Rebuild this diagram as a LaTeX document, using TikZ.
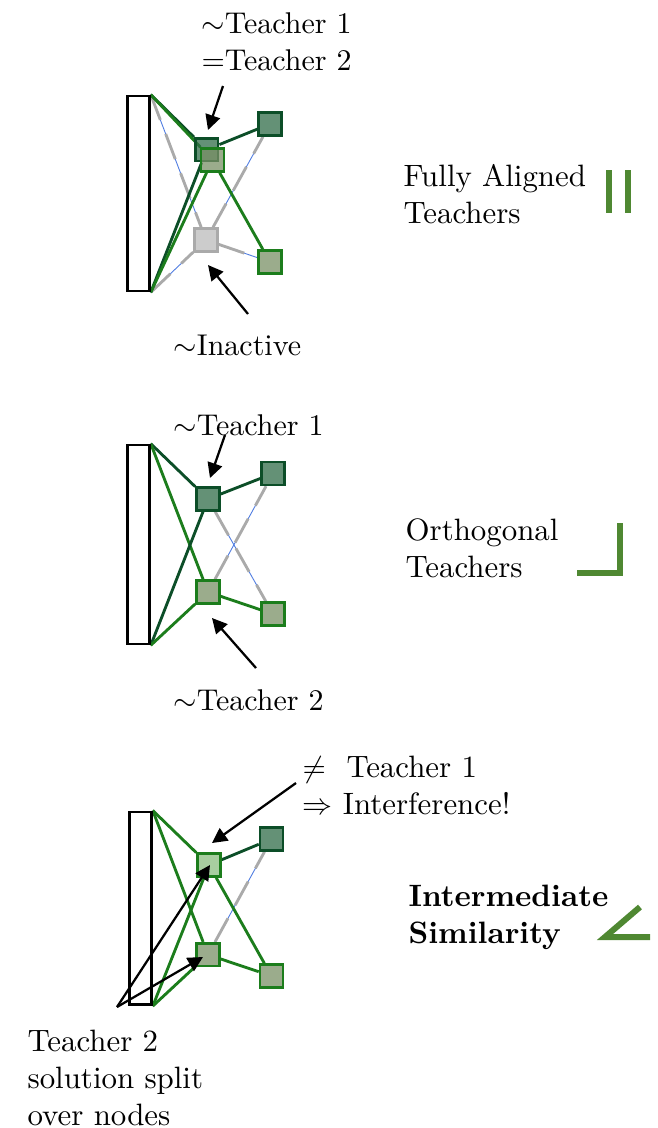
\documentclass[tikz,border=0pt]{standalone}
\usetikzlibrary{arrows.meta,backgrounds}
\definecolor{dgline}{RGB}{12,78,40}
\definecolor{lgline}{RGB}{28,125,28}
\definecolor{dgfill}{RGB}{48,108,72}
\definecolor{lgfill}{RGB}{122,144,102}
\definecolor{grfill}{RGB}{187,187,187}
\definecolor{pgfill}{RGB}{139,190,128}
\definecolor{grline}{RGB}{170,170,170}
\definecolor{blline}{RGB}{80,125,225}
\definecolor{symcol}{RGB}{79,136,50}
\begin{document}
\begin{tikzpicture}[x=0.33333pt,y=-0.33333pt,
  inbox/.style={draw=black,fill=white,line width=0.9pt,minimum width=7.4pt,minimum height=65pt,inner sep=0pt},
  unit/.style={line width=0.9pt,minimum size=7.6pt,inner sep=0pt,fill opacity=0.75,draw opacity=1},
  dunit/.style={unit,draw=dgline,fill=dgfill},
  lunit/.style={unit,draw=lgline,fill=lgfill},
  gunit/.style={unit,draw=grline,fill=grfill},
  punit/.style={unit,draw=lgline,fill=pgfill},
  dedge/.style={draw=dgline,line width=0.95pt},
  ledge/.style={draw=lgline,line width=0.95pt},
  iedge/.style={draw=grline,line width=0.95pt,dash pattern=on 9pt off 5pt,
     preaction={draw=blline,line width=0.3pt,solid}},
  lbl/.style={font=\fontsize{10.3}{12.33}\selectfont,inner sep=0pt,align=left,anchor=base west},
  tlbl/.style={lbl,font=\fontsize{10}{12.33}\selectfont},
  blbl/.style={lbl,font=\fontsize{10.3}{12.33}\selectfont\bfseries},
  arr/.style={draw=black,line width=0.75pt,-{Triangle[length=5pt,width=5pt]}},
  sym/.style={draw=symcol,line width=2pt}
]
\useasboundingbox (0,0) rectangle (658,1128);

% ---------------- Panel 1 ----------------
\node[inbox] (in1) at (138.3,193.5) {};
\node[dunit] (h1a) at (206.7,149.7) {};
\node[lunit] (h1b) at (212.5,160) {};
\node[gunit] (h1c) at (206,240) {};
\node[dunit] (o1a) at (270,124) {};
\node[lunit] (o1b) at (270,262) {};
\begin{pgfonlayer}{background}
\draw[iedge] (in1.north east) -- (h1c);
\draw[iedge] (in1.south east) -- (h1c);
\draw[iedge] (h1c) -- (o1a);
\draw[iedge] (h1c) -- (o1b);
\draw[dedge] (in1.north east) -- (h1a);
\draw[ledge] (in1.north east) -- (h1b);
\draw[dedge] (in1.south east) -- (h1a);
\draw[ledge] (in1.south east) -- (h1b);
\draw[dedge] (h1a) -- (o1a);
\draw[ledge] (h1b) -- (o1b);
\end{pgfonlayer}
\node[tlbl] (t1) at (201,70) {$\sim$Teacher 1\\$=$Teacher 2};
\node[lbl] (t1r) at (403,223) {Fully Aligned\\Teachers};
\node[tlbl] (t1i) at (173,355) {$\sim$Inactive};
\coordinate (a1s) at (223,86);
\coordinate (a1e) at (208,130);
\coordinate (a2s) at (248,314);
\coordinate (a2e) at (208,265);
\draw[arr] (a1s) -- (a1e);
\draw[arr] (a2s) -- (a2e);
\draw[sym] (609,170) -- (609,213);
\draw[sym] (628,170) -- (628,213);

% ---------------- Panel 2 ----------------
\node[inbox,minimum height=66.3pt] (in2) at (138.3,544.5) {};
\node[dunit] (h2a) at (208,499) {};
\node[lunit] (h2b) at (208,592) {};
\node[dunit] (o2a) at (273,473.5) {};
\node[lunit] (o2b) at (273,614) {};
\begin{pgfonlayer}{background}
\draw[iedge] (h2a) -- (o2b);
\draw[iedge] (h2b) -- (o2a);
\draw[dedge] (in2.north east) -- (h2a);
\draw[ledge] (in2.north east) -- (h2b);
\draw[dedge] (in2.south east) -- (h2a);
\draw[ledge] (in2.south east) -- (h2b);
\draw[dedge] (h2a) -- (o2a);
\draw[ledge] (h2b) -- (o2b);
\end{pgfonlayer}
\node[tlbl] (t2a) at (173,435) {$\sim$Teacher 1};
\node[lbl] (t2r) at (405,577) {Orthogonal\\Teachers};
\node[tlbl] (t2b) at (173,710) {$\sim$Teacher 2};
\coordinate (b1s) at (225,435);
\coordinate (b1e) at (210,478);
\coordinate (b2s) at (256,668);
\coordinate (b2e) at (212,618);
\draw[arr] (b1s) -- (b1e);
\draw[arr] (b2s) -- (b2e);
\draw[sym] (620,523) -- (620,572.5) -- (577,572.5);

% ---------------- Panel 3 ----------------
\node[inbox,minimum height=64.3pt] (in3) at (140.3,908.3) {};
\node[punit] (h3a) at (209,865) {};
\node[lunit] (h3b) at (208,954.7) {};
\node[dunit] (o3a) at (271.5,839) {};
\node[lunit] (o3b) at (271.5,976) {};
\begin{pgfonlayer}{background}
\draw[iedge] (h3b) -- (o3a);
\draw[ledge] (in3.north east) -- (h3a);
\draw[ledge] (in3.north east) -- (h3b);
\draw[ledge] (in3.south east) -- (h3a);
\draw[ledge] (in3.south east) -- (h3b);
\draw[dedge] (h3a) -- (o3a);
\draw[ledge] (h3a) -- (o3b);
\draw[ledge] (h3b) -- (o3b);
\end{pgfonlayer}
\node[lbl] (t3a) at (302,814) {$\neq$\ \ Teacher 1\\$\Rightarrow$ Interference!};
\node[blbl] (t3r) at (408,943) {Intermediate\\Similarity};
\node[lbl] (t3b) at (27,1125) {Teacher 2\\solution split\\over nodes};
\coordinate (c1s) at (296,783);
\coordinate (c1e) at (212,843);
\coordinate (c2s) at (117,1007);
\coordinate (c2e) at (210,865);
\coordinate (c3e) at (203,957);
\draw[arr] (c1s) -- (c1e);
\draw[arr] (c2s) -- (c2e);
\draw[arr] (c2s) -- (c3e);
\draw[sym] (640,907) -- (605,937) -- (650,937);
\end{tikzpicture}
\end{document}
